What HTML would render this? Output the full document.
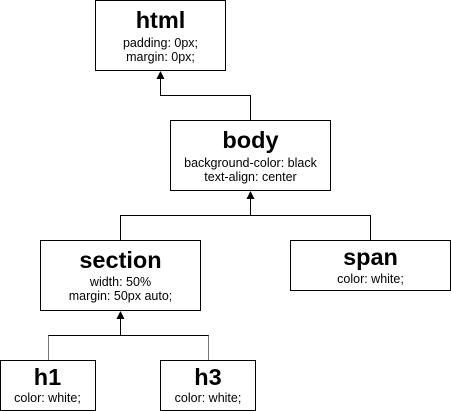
<!DOCTYPE html>
<html><head><style>body{margin:0;background:#fff}svg{display:block}</style></head><body>
<svg width="451" height="411" viewBox="0 0 451 411" xmlns="http://www.w3.org/2000/svg" font-family="'Liberation Sans', Arial, sans-serif" text-anchor="middle">
<g fill="none" stroke="#000" stroke-width="1">
<rect x="95.5" y="0.5" width="130" height="70"/>
<rect x="170.5" y="120.5" width="160" height="70"/>
<rect x="40.5" y="240.5" width="160" height="70"/>
<rect x="290.5" y="240.5" width="160" height="50"/>
<rect x="0.5" y="360.5" width="95" height="50"/>
<rect x="160.5" y="360.5" width="95" height="50"/>
<polyline points="250.5,120 250.5,95.5 160.5,95.5 160.5,77"/>
<polyline points="120.5,240 120.5,215.5 370.5,215.5 370.5,240"/>
<line x1="250.5" y1="215.5" x2="250.5" y2="197"/>
<polyline points="120.5,335.5 120.5,317"/>
<polyline points="48.5,360 48.5,335.5 208.5,335.5 208.5,360" stroke="#777"/>
<line x1="48.5" y1="335.5" x2="208.5" y2="335.5"/>
</g>
<g fill="#000">
<polygon points="160.5,71 156.5,79 164.5,79"/>
<polygon points="250.5,191 246.5,199 254.5,199"/>
<polygon points="120.5,311 116.5,319 124.5,319"/>
</g>
<g font-weight="bold" font-size="23.5">
<text x="160.5" y="28">html</text>
<text x="250.5" y="148">body</text>
<text x="120.5" y="268">section</text>
<text x="370.5" y="265">span</text>
<text x="47.5" y="385">h1</text>
<text x="208" y="385">h3</text>
</g>
<g font-size="12.5">
<text x="160.5" y="47">padding: 0px;</text>
<text x="160.5" y="61">margin: 0px;</text>
<text x="250.5" y="167">background-color: black</text>
<text x="250.5" y="181">text-align: center</text>
<text x="120.5" y="286">width: 50%</text>
<text x="120.5" y="300">margin: 50px auto;</text>
<text x="370.5" y="283">color: white;</text>
<text x="47.5" y="402">color: white;</text>
<text x="208" y="402">color: white;</text>
</g>
</svg>
</body></html>
